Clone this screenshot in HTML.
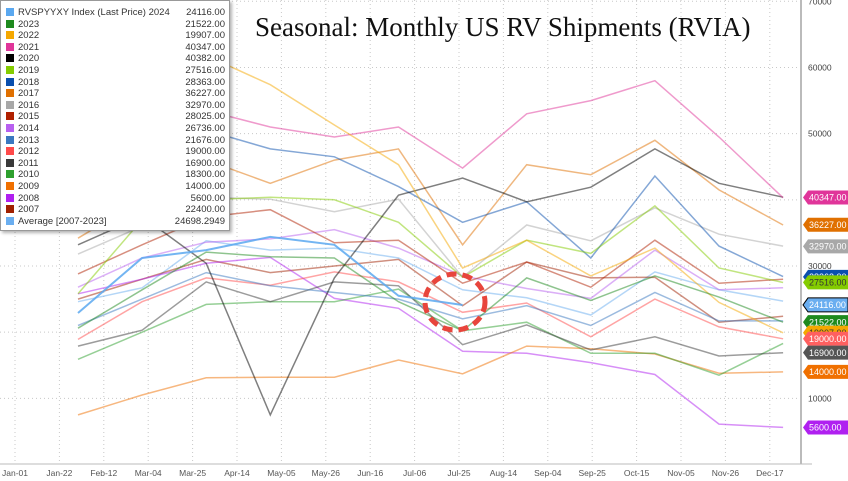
<!DOCTYPE html>
<html><head><meta charset="utf-8">
<style>
body{margin:0;width:848px;height:481px;overflow:hidden;background:#fff;font-family:"Liberation Sans",sans-serif;}
#wrap{position:relative;width:848px;height:481px;}
#title{position:absolute;left:255px;top:12px;font-family:"Liberation Serif",serif;font-size:27px;color:#111;white-space:nowrap;}
#legend{position:absolute;left:0;top:0;width:228px;height:229px;background:#fff;border:1px solid #999;box-shadow:2px 2px 3px rgba(0,0,0,.3);font-size:9.5px;color:#333;}
.row{position:absolute;left:4px;width:220px;height:11px;line-height:11px;}
.sw{position:absolute;left:1px;top:1px;width:8px;height:8px;}
.nm{position:absolute;left:13px;}
.vl{position:absolute;right:0;}
</style></head><body>
<div id="wrap">
<svg id="chart" width="848" height="481" style="position:absolute;left:0;top:0"></svg>
<div id="title">Seasonal: Monthly US RV Shipments (RVIA)</div>
<div id="legend"></div>
</div>
<script>
const months = ["Jan","Feb","Mar","Apr","May","Jun","Jul","Aug","Sep","Oct","Nov","Dec"];
const xTickLabels = ["Jan-01","Jan-22","Feb-12","Mar-04","Mar-25","Apr-14","May-05","May-26","Jun-16","Jul-06","Jul-25","Aug-14","Sep-04","Sep-25","Oct-15","Nov-05","Nov-26","Dec-17"];
const yTicks = [10000,20000,30000,40000,50000,60000,70000];
const seriesNames = ["RVSPYYXY Index (Last Price) 2024","2023","2022","2021","2020","2019","2018","2017","2016","2015","2014","2013","2012","2011","2010","2009","2008","2007","Average  [2007-2023]"];
const legendValues = ["24116.00","21522.00","19907.00","40347.00","40382.00","27516.00","28363.00","36227.00","32970.00","28025.00","26736.00","21676.00","19000.00","16900.00","18300.00","14000.00","5600.00","22400.00","24698.2949"];
const s2024 = [22.9,31.2,32.4,34.4,33.2,25.5,24.1,null,null,null,null,null];
const s2023 = [20.6,26.4,32.1,31.4,31.2,24.6,20.2,28.2,24.8,28.5,25.3,21.5];
const s2022 = [54,58,61.8,57.4,51.3,45.3,29.7,33.9,28.5,32.7,24.5,19.9];
const s2021 = [41,45,53.5,51,49.5,51,44.8,53,55,58,49.5,40.3];
const s2020 = [33.2,37.5,30.4,7.5,28.2,40.7,43.3,39.7,41.9,47.7,42.5,40.4];
const s2019 = [25.8,37,40,40.4,40,36.6,28.3,33.9,31.9,39.1,29.7,27.5];
const s2018 = [43,46,50.5,47.7,46.5,42,36.6,39.7,31.2,43.6,33.0,28.4];
const s2017 = [34.2,40,46,42.5,46,47.7,33.2,45.3,43.8,49.0,41.5,36.2];
const s2016 = [31.8,36,40.4,40.1,38.2,40.1,28.3,36.2,33.8,38.8,34.8,33.0];
const s2015 = [28.8,33.2,37.4,38.5,33.5,33.9,27.4,30.6,26.8,33.9,27.4,28.0];
const s2014 = [26.8,31.2,33.6,34.1,35.5,32.7,28.5,26.6,25.1,32.4,26.4,26.7];
const s2013 = [21,25,29,27,26,25,22,24,21,26,21.7,21.7];
const s2012 = [18.9,24.6,28.2,27.1,29.1,27.6,23.0,24.4,19.3,25.0,20.8,19.0];
const s2011 = [17.9,20.3,27.6,24.6,27.6,27.0,18.1,21.1,17.3,19.3,16.4,16.9];
const s2010 = [15.9,20.0,24.2,24.6,24.6,26.5,20.2,21.5,16.8,16.8,13.5,18.3];
const s2009 = [7.5,10.5,13.1,13.2,13.2,15.8,13.7,17.9,17.5,16.7,13.8,14.0];
const s2008 = [25.8,28.0,30.4,31.3,25.1,23.6,17.1,16.8,15.4,13.6,6.1,5.6];
const s2007 = [25,28,31,29,30,31,24,30.6,28.2,28.3,21.5,22.4];
const sAvg = [24.6,26.7,33.8,32.4,32.7,31.2,26.4,25.2,22.6,29.1,26.4,24.7];
const allSeries = [s2024,s2023,s2022,s2021,s2020,s2019,s2018,s2017,s2016,s2015,s2014,s2013,s2012,s2011,s2010,s2009,s2008,s2007,sAvg];
const colors = ["#5aa8f0","#1e8a1e","#f5a800","#e0359a","#000000","#84cc00","#0a4fae","#e07000","#a8a8a8","#b02000","#b860f0","#3a78c0","#ff4a4a","#3a3a3a","#2ea02e","#f07000","#b020f0","#a02000","#6aaef0"];
const tagVals = [40347,36227,32970,28363,27516,24116,21522,19907,19000,16900,14000,5600];
const tagText = ["40347.00","36227.00","32970.00","28363.00","27516.00","24116.00","21522.00","19907.00","19000.00","16900.00","14000.00","5600.00"];
const tagColors = ["#e0359a","#e07000","#a8a8a8","#0a4fae","#84cc00","#6aaef0","#1e8a1e","#f5a800","#ff6060","#555555","#f07000","#b020f0"];

const NS="http://www.w3.org/2000/svg";
const svg=document.getElementById('chart');
function xM(i){return 78+64.1*i;}
function yV(v){return 464.5-v*0.006617;}
function xT(i){return 15+44.4*i;}
function mk(t,a){const e=document.createElementNS(NS,t);for(const k in a)e.setAttribute(k,a[k]);svg.appendChild(e);return e;}
for(let i=0;i<xTickLabels.length;i++){
 const l=mk('line',{x1:xT(i),x2:xT(i),y1:0,y2:463,stroke:'#c8c8c8','stroke-dasharray':'1,3'});
 
 const t=mk('text',{x:xT(i),y:476,'font-size':'8.5','text-anchor':'middle',fill:'#555','font-family':'Liberation Sans'});
 t.textContent=xTickLabels[i];
 
}
for(const v of yTicks){
 const l=mk('line',{x1:0,x2:800,y1:yV(v),y2:yV(v),stroke:'#c8c8c8','stroke-dasharray':'1,3'});
 
 const t=mk('text',{x:808,y:yV(v)+3,'font-size':'8.5',fill:'#444','font-family':'Liberation Sans'});
 t.textContent=v;
 
}
const ax=mk('line',{x1:801,x2:801,y1:0,y2:464,stroke:'#bbb','stroke-width':2});

const xa=mk('line',{x1:0,x2:812,y1:464,y2:464,stroke:'#bbb','stroke-width':1});

for(let s=allSeries.length-1;s>=0;s--){
 const d=allSeries[s];let p='';
 d.forEach((v,i)=>{if(v!==null)p+=(p?'L':'M')+xM(i).toFixed(1)+','+yV(v*1000).toFixed(1);});
 const e=mk('path',{d:p,fill:'none',stroke:colors[s],'stroke-width':s===0?2:1.5,opacity:s===0?0.85:0.5});
 
 
}
const c=mk('ellipse',{cx:455,cy:302,rx:30,ry:28,fill:'none',stroke:'#e8453c','stroke-width':5,'stroke-dasharray':'10,6'});

tagVals.forEach((v,i)=>{
 const y=yV(v);
 const g=mk('path',{d:`M803,${y}L808,${y-7}H848V${y+7}H808Z`,fill:tagColors[i],stroke:i===5?'#000':'none'});
 
 const t=mk('text',{x:809,y:y+3.2,'font-size':'9','font-family':'Liberation Sans',fill:(i===7||i===4)?'#333':'#fff'});
 t.textContent=tagText[i];
 
});
const lg=document.getElementById('legend');
seriesNames.forEach((n,i)=>{
 const r=document.createElement('div');r.className='row';r.style.top=(6+11.6*i)+'px';
 
 
 r.innerHTML=`<span class="sw" style="background:${colors[i]}"></span><span class="nm">${n}</span><span class="vl">${legendValues[i]}</span>`;
 lg.appendChild(r);
});
</script>
</body></html>
